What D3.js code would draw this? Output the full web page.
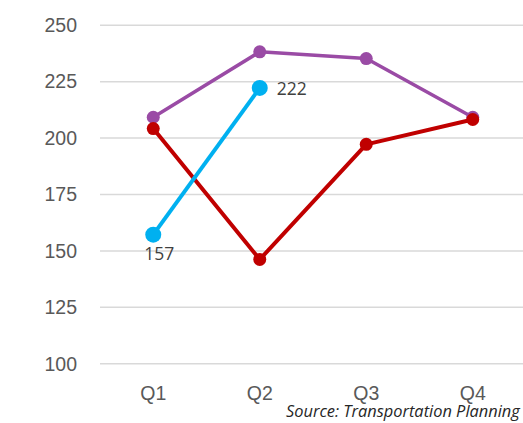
<!DOCTYPE html>
<html>
<head>
<meta charset="utf-8">
<script src="https://cdn.jsdelivr.net/npm/d3@7"></script>
<style>
  body { margin: 0; background: #fff; }
  svg { display: block; font-family: "Open Sans", sans-serif; }
</style>
</head>
<body>
<svg id="chart" width="523" height="423"></svg>
<script>
// 분기 카테고리와 시리즈 값
var quarters = ["Q1", "Q2", "Q3", "Q4"];
var purpleValues = [209, 238, 235, 209];
var redValues = [204, 146, 197, 208];
var blueValues = [157, 222];
var yTicks = [100, 125, 150, 175, 200, 225, 250];

var svg = d3.select("#chart");

// 스케일 설정
var x = d3.scaleBand()
    .domain(quarters)
    .range([100, 526]);

var y = d3.scaleLinear()
    .domain([100, 250])
    .range([363.3, 24.7]);

// 가로 그리드 + y축 레이블
var yAxis = svg.append("g")
    .attr("transform", "translate(100,0)")
    .call(d3.axisLeft(y).tickValues(yTicks).tickSize(-430).tickPadding(23));

yAxis.select(".domain").remove();
yAxis.selectAll(".tick line")
    .attr("stroke", "#d9d9d9")
    .attr("stroke-width", 1.5);
yAxis.selectAll(".tick text")
    .attr("fill", "#595959")
    .style("font-size", "19.5px")
    .attr("dy", "0.35em");

// x축 레이블
var xAxis = svg.append("g")
    .attr("transform", "translate(0,363.3)")
    .call(d3.axisBottom(x).tickSize(0).tickPadding(23));

xAxis.select(".domain").remove();
xAxis.selectAll(".tick text")
    .attr("fill", "#595959")
    .style("font-size", "19.5px");

// 시리즈 그리기
function drawSeries(values, color, width, r) {
    var pts = values.map(function(v, i) { return { q: quarters[i], v: v }; });
    var line = d3.line()
        .x(function(d) { return x(d.q) + x.bandwidth() / 2; })
        .y(function(d) { return y(d.v); });

    svg.append("path")
        .datum(pts)
        .attr("d", line)
        .attr("fill", "none")
        .attr("stroke", color)
        .attr("stroke-width", width)
        .attr("stroke-linejoin", "round");

    svg.selectAll(null)
        .data(pts)
        .enter().append("circle")
        .attr("cx", function(d) { return x(d.q) + x.bandwidth() / 2; })
        .attr("cy", function(d) { return y(d.v); })
        .attr("r", r)
        .attr("fill", color);
    return pts;
}

drawSeries(purpleValues, "#9a4ba5", 3.5, 6.5);
drawSeries(redValues, "#c00000", 4, 6.5);
var bluePts = drawSeries(blueValues, "#00b0f0", 4, 8);

// 데이터 레이블
svg.append("text")
    .attr("x", x(bluePts[0].q) + x.bandwidth() / 2 + 6)
    .attr("y", y(bluePts[0].v) + 25)
    .attr("text-anchor", "middle")
    .attr("fill", "#404040")
    .style("font-size", "17.5px")
    .text(bluePts[0].v);

svg.append("text")
    .attr("x", x(bluePts[1].q) + x.bandwidth() / 2 + 17)
    .attr("y", y(bluePts[1].v) + 7)
    .attr("fill", "#404040")
    .style("font-size", "17.5px")
    .text(bluePts[1].v);

// 출처
svg.append("text")
    .attr("x", 286)
    .attr("y", 417)
    .attr("fill", "#262626")
    .style("font-size", "16.4px")
    .style("font-style", "italic")
    .text("Source: Transportation Planning");
</script>
</body>
</html>
